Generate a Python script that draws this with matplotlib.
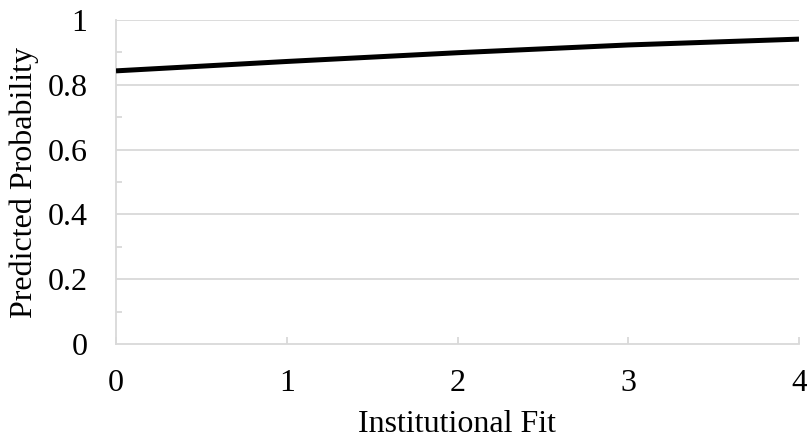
import matplotlib
matplotlib.use('Agg')
import matplotlib.pyplot as plt
import numpy as np
from matplotlib.ticker import MultipleLocator, FuncFormatter

# --- datos ---
institutional_fit = [0, 1, 2, 3, 4]
predicted_prob = [0.843, 0.872, 0.899, 0.923, 0.941]
y_ticks = [0, 0.2, 0.4, 0.6, 0.8, 1]
x_ticks = [0, 1, 2, 3, 4]

GRIS = '#d9d9d9'
TAM = 23
plt.rcParams['font.family'] = ['Liberation Serif', 'DejaVu Serif']

fig = plt.figure(figsize=(8.07, 4.43), dpi=100)
ax = fig.add_axes([116/807, 1 - 344/443, (799 - 116)/807, (344 - 20)/443])

ax.plot(institutional_fit, predicted_prob, color='black', lw=3.6, solid_capstyle='butt', zorder=3)

ax.set_xlim(0, 4)
ax.set_ylim(0, 1)
ax.set_xticks(x_ticks)
ax.set_yticks(y_ticks)
ax.yaxis.set_major_formatter(FuncFormatter(lambda v, _: f"{v:g}"))
ax.yaxis.set_minor_locator(MultipleLocator(0.1))

for y in y_ticks[1:]:
    ax.axhline(y, color=GRIS, lw=1.3, zorder=1)

for lado in ['top', 'right']:
    ax.spines[lado].set_visible(False)
for lado in ['left', 'bottom']:
    ax.spines[lado].set_color(GRIS)
    ax.spines[lado].set_linewidth(1.3)

ax.tick_params(axis='x', direction='in', length=5, width=1.3, color=GRIS, labelsize=TAM, pad=18)
ax.tick_params(axis='y', which='major', direction='in', length=0, labelsize=TAM, pad=20.5)
ax.tick_params(axis='y', which='minor', direction='in', length=4.5, width=1.3, color=GRIS)

ax.set_xlabel('Institutional Fit', fontsize=TAM, labelpad=9)
ax.set_ylabel('Predicted Probability', fontsize=TAM, labelpad=6)

plt.savefig('out.png', dpi=100)
plt.close()
